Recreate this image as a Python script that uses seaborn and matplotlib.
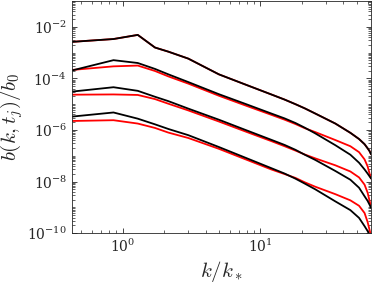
import numpy as np
import pandas as pd
import matplotlib
matplotlib.use("Agg")
import matplotlib.pyplot as plt
import matplotlib.ticker as mticker
import seaborn as sns

# wavenumber samples k/k_*
k = [0.43, 0.86, 1.29, 1.72, 2.15, 3, 5, 8, 12, 15, 18, 21, 25, 35, 45, 52, 57, 60, 62, 63.5]

# log10 of b(k, t_j)/b_0, black = simulation, red = model
log_b1 = [-2.58, -2.47, -2.31, -2.80, -2.96, -3.23, -3.84, -4.26, -4.62, -4.82, -5.00,
          -5.16, -5.36, -5.75, -6.11, -6.35, -6.55, -6.71, -6.82, -6.94]
log_b1_red = log_b1

log_b2 = [-3.69, -3.29, -3.40, -3.63, -3.84, -4.14, -4.61, -5.01, -5.36, -5.55, -5.73,
          -5.91, -6.13, -6.59, -6.96, -7.27, -7.53, -7.69, -7.80, -7.88]
log_b2_red = [-3.67, -3.53, -3.50, -3.71, -3.92, -4.20, -4.67, -5.07, -5.41, -5.60, -5.77,
              -5.93, -6.08, -6.39, -6.63, -6.86, -7.14, -7.41, -7.69, -7.88]

log_b3 = [-4.51, -4.34, -4.48, -4.71, -4.88, -5.17, -5.60, -6.02, -6.38, -6.58, -6.77,
          -6.96, -7.16, -7.59, -7.93, -8.24, -8.57, -8.75, -8.90, -9.02]
log_b3_red = [-4.63, -4.62, -4.64, -4.80, -4.98, -5.24, -5.67, -6.08, -6.43, -6.63, -6.80,
              -6.95, -7.10, -7.37, -7.61, -7.84, -8.12, -8.43, -8.75, -8.98]

log_b4 = [-5.48, -5.32, -5.56, -5.78, -5.96, -6.20, -6.66, -7.10, -7.48, -7.69, -7.89,
          -8.08, -8.30, -8.77, -9.11, -9.41, -9.73, -9.92, -10.08, -10.20]
log_b4_red = [-5.65, -5.62, -5.75, -5.92, -6.10, -6.31, -6.73, -7.16, -7.53, -7.71, -7.86,
              -8.03, -8.20, -8.49, -8.73, -8.94, -9.22, -9.57, -9.88, -10.12]

sns.set_style("ticks")
plt.rcParams['font.family'] = ['DejaVu Serif']
plt.rcParams['mathtext.fontset'] = 'cm'

fig = plt.figure(figsize=(3.74, 2.86), dpi=100)
ax = fig.add_axes([0.1925, 0.185, 0.7995, 0.811])

pairs = [(log_b1, log_b1_red), (log_b2, log_b2_red),
         (log_b3, log_b3_red), (log_b4, log_b4_red)]
for black, red in pairs:
    sns.lineplot(x=k, y=10 ** np.array(red), color='#ff0000', lw=1.3,
                 estimator=None, ax=ax)
    sns.lineplot(x=k, y=10 ** np.array(black), color='black', lw=1.3,
                 estimator=None, ax=ax)

ax.set_xscale('log')
ax.set_yscale('log')
ax.set_xlim(0.43, 63.5)
ax.set_ylim(1e-10, 1e-1)

ax.yaxis.set_major_locator(mticker.LogLocator(base=100, numticks=10))
ax.yaxis.set_minor_locator(mticker.LogLocator(base=10, subs=np.arange(1, 10), numticks=100))
ax.yaxis.set_minor_formatter(mticker.NullFormatter())
ax.xaxis.set_major_locator(mticker.LogLocator(base=10, numticks=10))
ax.xaxis.set_minor_locator(mticker.LogLocator(base=10, subs=np.arange(2, 10), numticks=100))
ax.xaxis.set_minor_formatter(mticker.NullFormatter())

grey = '#262626'
for s in ax.spines.values():
    s.set_visible(True)
    s.set_color(grey)
    s.set_linewidth(0.6)
ax.tick_params(which='both', direction='in', top=True, right=True, colors=grey,
               labelcolor=grey, labelsize=10)
ax.tick_params(which='major', length=3.5, width=0.6)
ax.tick_params(which='minor', length=2, width=0.5)

ax.set_xlabel(r'$k/k_*$', fontsize=15, color=grey, labelpad=3)
ax.set_ylabel(r'$b(k,t_j)/b_0$', fontsize=15, color=grey, labelpad=2)

fig.savefig('out.png', dpi=100)
